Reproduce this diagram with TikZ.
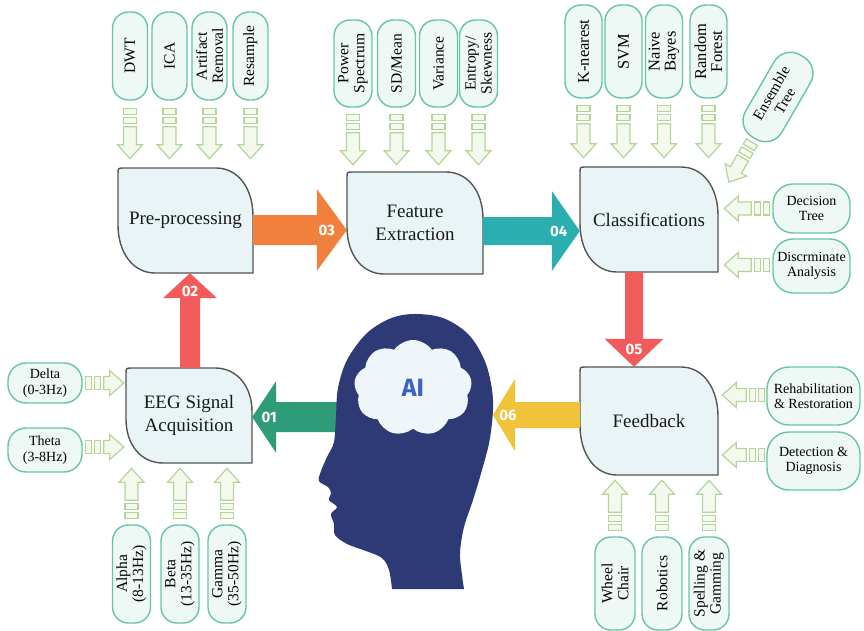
\documentclass[tikz,border=0pt]{standalone}
\usepackage{fontspec}
\setmainfont{Liberation Serif}
\newfontfamily\numfont{Fira Sans}
\usetikzlibrary{calc,shapes.symbols}

\definecolor{boxfill}{HTML}{E9F4F6}
\definecolor{boxline}{HTML}{555555}
\definecolor{pillline}{HTML}{66C6A3}
\definecolor{pillfill}{HTML}{EEF8F5}
\definecolor{hline}{HTML}{B5D49A}
\definecolor{hfill}{HTML}{F4F9EE}
\definecolor{cOrange}{HTML}{F0803C}
\definecolor{cTeal}{HTML}{2BAEAF}
\definecolor{cRed}{HTML}{F25B5B}
\definecolor{cYellow}{HTML}{F1C33A}
\definecolor{cGreen}{HTML}{2E9B79}
\definecolor{cNavy}{HTML}{2E3A75}
\definecolor{cBlue}{HTML}{3C62C2}
\definecolor{cloudfill}{HTML}{EEF6FA}

% leaf-shaped stage box: name, x0, y0, x1, y1, text
\newcommand\leafbox[6]{%
  \pgfmathsetmacro\lbw{#4-#2}\pgfmathsetmacro\lbh{#5-#3}%
  \pgfmathsetmacro\lbry{0.46*\lbh}%
  \pgfmathsetmacro\lbcx{(#2+#4)/2}\pgfmathsetmacro\lbcy{(#3+#5)/2}%
  \filldraw[leaf] (#2+6,#3) -- (#4-37,#3)
    .. controls (#4-15,#3) and (#4,#3+0.42*\lbry) .. (#4,#3+\lbry)
    -- (#4,#5) -- (#2+37,#5)
    .. controls (#2+15,#5) and (#2,#5-0.42*\lbry) .. (#2,#5-\lbry)
    -- (#2,#3+6) .. controls (#2,#3) .. (#2+6,#3) -- cycle;
  \node[boxtext, minimum width=\lbw pt, minimum height=\lbh pt] (#1) at (\lbcx,\lbcy) {#6};}

% horizontal block arrow: start, end, dy, shaft half, head half, head base offset, label offset, colour, label
\newcommand\hbigarrow[9]{%
  \fill[#8] ($(#1)+(0,#3-#4)$) -- ($(#1 -| #2)+(#6,#3-#4)$) -- ($(#1 -| #2)+(#6,#3-#5)$)
    -- ($(#1 -| #2)+(0,#3)$) -- ($(#1 -| #2)+(#6,#3+#5)$) -- ($(#1 -| #2)+(#6,#3+#4)$)
    -- ($(#1)+(0,#3+#4)$) -- cycle;
  \node[numlabel] at ($(#1 -| #2)+(#7,#3)$) {#9};}

% vertical block arrow: start, end, dx, shaft half, head half, head base offset, label offset, colour, label
\newcommand\vbigarrow[9]{%
  \fill[#8] ($(#1)+(#3-#4,0)$) -- ($(#1 |- #2)+(#3-#4,#6)$) -- ($(#1 |- #2)+(#3-#5,#6)$)
    -- ($(#1 |- #2)+(#3,0)$) -- ($(#1 |- #2)+(#3+#5,#6)$) -- ($(#1 |- #2)+(#3+#4,#6)$)
    -- ($(#1)+(#3+#4,0)$) -- cycle;
  \node[numlabel] at ($(#1 |- #2)+(#3,#7)$) {#9};}

\begin{document}
\begin{tikzpicture}[x=1pt,y=-1pt,
  leaf/.style={fill=boxfill, draw=boxline, line width=1.4pt},
  boxtext/.style={align=center, inner sep=0pt, text=black!90, font=\fontsize{19}{23}\selectfont},
  pill/.style={rectangle, rounded corners=16pt, draw=pillline, fill=pillfill, line width=1.4pt,
    align=center, inner sep=0pt, font=\fontsize{14}{15.5}\selectfont},
  vpill/.style={pill, rotate=90, font=\fontsize{15.5}{16}\selectfont},
  bigpill/.style={vpill, font=\fontsize{16.5}{16}\selectfont},
  numlabel/.style={text=white, inner sep=0pt, font=\numfont\bfseries\fontsize{15}{15}\selectfont},
  hollowline/.style={draw=hline, fill=hfill, line width=1.2pt},
  pics/harrow/.style={code={
    \draw[hollowline] (0,-6.5) rectangle (6,6.5);
    \draw[hollowline] (9,-6.5) rectangle (15,6.5);
    \draw[hollowline] (18,-6.5) -- (#1-14,-6.5) -- (#1-14,-12.5) -- (#1,0)
      -- (#1-14,12.5) -- (#1-14,6.5) -- (18,6.5) -- cycle;
  }}
]
\useasboundingbox (0,0) rectangle (864,631);
\fill[white] (0,0) rectangle (864,631);

% ---- option pills ----
\node[vpill, minimum width=88pt, minimum height=35pt] (dwt) at (130,56) {DWT};
\node[vpill, minimum width=88pt, minimum height=35pt] (ica) at (169.5,56) {ICA};
\node[vpill, minimum width=88pt, minimum height=35pt] (artifact) at (209.5,56) {Artifact\\Removal};
\node[vpill, minimum width=88pt, minimum height=35pt] (resample) at (250.5,56) {Resample};

\node[vpill, minimum width=87pt, minimum height=38pt] (power) at (353,63.5) {Power\\Spectrum};
\node[vpill, minimum width=87pt, minimum height=38pt] (sdmean) at (396.5,63.5) {SD/Mean};
\node[vpill, minimum width=87pt, minimum height=38pt] (variance) at (438.5,63.5) {Variance};
\node[vpill, minimum width=87pt, minimum height=38pt] (entropy) at (478.5,63.5) {Entropy/\\Skewness};

\node[bigpill, minimum width=93pt, minimum height=37pt] (knn) at (583.5,51.5) {K-nearest};
\node[bigpill, minimum width=93pt, minimum height=37pt] (svm) at (623.5,51.5) {SVM};
\node[bigpill, minimum width=93pt, minimum height=37pt] (bayes) at (664,51.5) {Naive\\Bayes};
\node[bigpill, minimum width=93pt, minimum height=37pt] (forest) at (708.5,51.5) {Random\\Forest};
\node[pill, rotate=60, rounded corners=19pt, minimum width=95pt, minimum height=42pt,
  font=\fontsize{15}{15.5}\selectfont] (ens) at (778,97) {Ensemble\\Tree};

\node[pill, rounded corners=20pt, minimum width=77pt, minimum height=49pt] (decision) at (811.5,208.5) {Decision\\Tree};
\node[pill, rounded corners=20pt, minimum width=77pt, minimum height=54pt] (discr) at (811.5,266) {Discrminate\\Analysis};

\node[pill, rounded corners=18pt, minimum width=74pt, minimum height=40pt] (delta) at (45,383) {Delta\\(0-3Hz)};
\node[pill, rounded corners=18pt, minimum width=74pt, minimum height=44pt] (theta) at (45,450) {Theta\\(3-8Hz)};

\node[vpill, minimum width=98pt, minimum height=38pt] (alpha) at (131.5,574) {Alpha\\(8-13Hz)};
\node[vpill, minimum width=98pt, minimum height=38pt] (beta) at (180,574) {Beta\\(13-35Hz)};
\node[vpill, minimum width=98pt, minimum height=38pt] (gamma) at (227,574) {Gamma\\(35-50Hz)};

\node[pill, rounded corners=22pt, minimum width=93pt, minimum height=58pt] (rehab) at (813.5,396) {Rehabilitation\\\& Restoration};
\node[pill, rounded corners=22pt, minimum width=93pt, minimum height=58pt] (detect) at (813.5,461) {Detection \&\\Diagnosis};

\node[vpill, minimum width=93pt, minimum height=40pt] (wheel) at (615,583.5) {Wheel\\Chair};
\node[vpill, minimum width=93pt, minimum height=40pt] (robotics) at (662,583.5) {Robotics};
\node[vpill, minimum width=93pt, minimum height=40pt] (spelling) at (709,583.5) {Spelling \&\\Gamming};

% ---- hollow arrows from options to stages ----
\foreach \p in {dwt,ica,artifact,resample}
  \pic[rotate=-90] at ($(\p.west)+(0,8)$) {harrow=50};
\foreach \p in {power,sdmean,variance,entropy}
  \pic[rotate=-90] at ($(\p.west)+(0,7)$) {harrow=50};
\foreach \p in {knn,svm,bayes,forest}
  \pic[rotate=-90] at ($(\p.west)+(0,7)$) {harrow=52};
\pic[rotate=240] at ($(ens.west)+(-2,3.5)$) {harrow=46};
\pic[rotate=180] at ($(decision.west)+(-3,0)$) {harrow=45};
\pic[rotate=180] at ($(discr.west)+(-3,-1)$) {harrow=45};
\pic at ($(delta.east)+(3,0)$) {harrow=38};
\pic at ($(theta.east)+(3,-3)$) {harrow=38};
\foreach \p in {alpha,beta,gamma}
  \pic[rotate=90] at ($(\p.east)+(0,-6)$) {harrow=50};
\foreach \p in {wheel,robotics,spelling}
  \pic[rotate=90] at ($(\p.east)+(0,-6)$) {harrow=50};
\pic[rotate=180] at ($(rehab.west)+(-2,-1)$) {harrow=42};
\pic[rotate=180] at ($(detect.west)+(-2,-6)$) {harrow=42};

% ---- stage boxes ----
\leafbox{pre}{118}{168}{253}{273}{Pre-processing}
\leafbox{feat}{347}{172}{483}{274}{Feature\\Extraction}
\leafbox{cls}{580}{167}{718}{272}{Classifications}
\leafbox{eeg}{126}{368}{252}{463}{EEG Signal\\Acquisition}
\leafbox{fb}{580}{367}{718}{475}{Feedback}

% ---- head anchors ----
\coordinate (headL) at (338,417);
\coordinate (headR) at (493,415);

% ---- numbered block arrows ----
\vbigarrow{eeg.north}{pre.south}{1}{10}{27}{25}{18}{cRed}{02}
\hbigarrow{pre.east}{feat.west}{9.5}{15}{41}{-30}{-20}{cOrange}{03}
\hbigarrow{feat.east}{cls.west}{8}{14}{40}{-28}{-21}{cTeal}{04}
\vbigarrow{cls.south}{fb.north}{-15}{9}{29.5}{-28}{-17}{cRed}{05}
\hbigarrow{fb.west}{headR}{-6}{13}{36}{22}{15}{cYellow}{06}
\hbigarrow{headL}{eeg.east}{0}{15}{36}{24}{17}{cGreen}{01}

% ---- head silhouette ----
\fill[cNavy] plot[smooth, tension=0.55] coordinates {
  (392,589) (389,570) (382,558) (366,551) (347,544) (335,535) (334,524)
  (331,514) (337,507) (329,500) (331,493) (328,487) (319,481) (321,471)
  (327,457) (334,442) (336,415) (338,388) (347,360) (366,334) (389,319)
  (413,314) (443,318) (469,335) (486,364) (493,400) (490,438) (482,470)
  (473,500) (464,527) (460,553) (462,575) (464,589)} -- cycle;

\node[cloud, cloud puffs=9, cloud puff arc=110, cloud ignores aspect, fill=cloudfill,
  minimum width=118pt, minimum height=96pt, inner sep=0pt, text=cBlue,
  font=\numfont\bfseries\fontsize{25}{25}\selectfont] (ai) at (413,388) {AI};
\end{tikzpicture}
\end{document}
